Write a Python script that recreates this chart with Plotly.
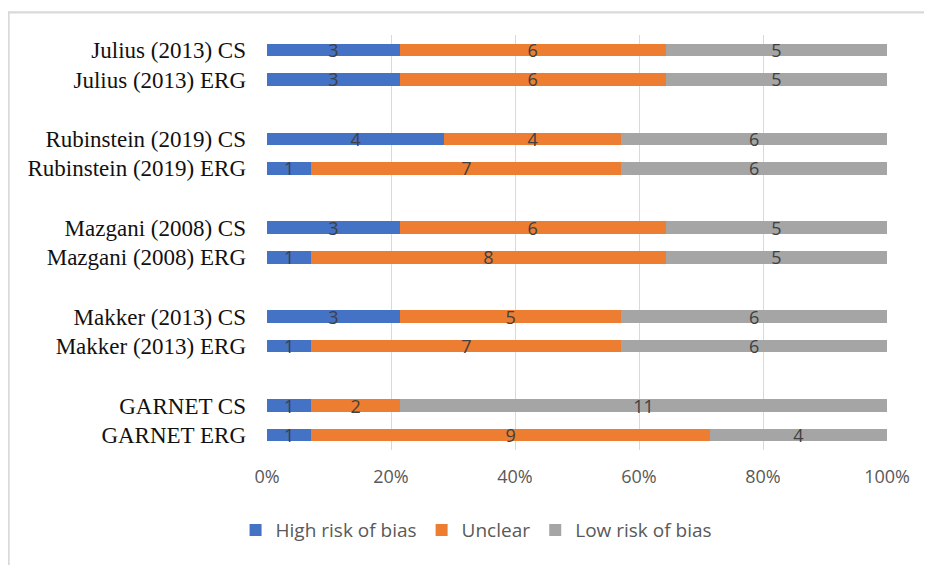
import plotly.graph_objects as go

studies = ["Julius (2013)", "Rubinstein (2019)", "Mazgani (2008)", "Makker (2013)", "GARNET"]
methods = ["CS", "ERG"]
series_names = ["High risk of bias", "Unclear", "Low risk of bias"]
colors = ["#4472C4", "#ED7D31", "#A5A5A5"]

# values per study, [CS, ERG]
high = {"Julius (2013)": [3, 3], "Rubinstein (2019)": [4, 1], "Mazgani (2008)": [3, 1],
        "Makker (2013)": [3, 1], "GARNET": [1, 1]}
unclear = {"Julius (2013)": [6, 6], "Rubinstein (2019)": [4, 7], "Mazgani (2008)": [6, 8],
           "Makker (2013)": [5, 7], "GARNET": [2, 9]}
low = {"Julius (2013)": [5, 5], "Rubinstein (2019)": [6, 6], "Mazgani (2008)": [5, 5],
       "Makker (2013)": [6, 6], "GARNET": [11, 4]}

labels, pos = [], []
for g, s in enumerate(studies):
    for m_i, m in enumerate(methods):
        labels.append(f"{s} {m}")
        pos.append(g * 3 + m_i)

data_sets = [high, unclear, low]
fig = go.Figure()
for name, col, d in zip(series_names, colors, data_sets):
    vals = [d[s][i] for s in studies for i in range(2)]
    fig.add_trace(go.Bar(
        y=pos, x=vals, name=name, orientation="h", marker_color=col,
        marker_line_width=0, width=0.42,
        text=[str(v) for v in vals], textposition="inside", textangle=0,
        insidetextanchor="middle", constraintext="none",
        textfont=dict(family="Open Sans, sans-serif", size=18, color="#404040"),
        cliponaxis=False,
    ))

fig.update_layout(
    barmode="stack", barnorm="percent",
    width=932, height=565,
    margin=dict(l=259, r=53, t=27, b=123),
    paper_bgcolor="white", plot_bgcolor="white",
    xaxis=dict(range=[0, 100], dtick=20, ticksuffix="%", showgrid=True,
               gridcolor="#D9D9D9", gridwidth=1, zeroline=False, showline=False,
               tickfont=dict(family="Open Sans, sans-serif", size=18, color="#595959"),
               ticklabelstandoff=14),
    yaxis=dict(tickvals=pos, ticktext=labels, range=[13.5, -0.5],
               showgrid=False, zeroline=False, showline=False,
               tickfont=dict(family="Liberation Serif, Times New Roman, serif", size=23, color="#111111"),
               ticklabelstandoff=20),
    legend=dict(orientation="h", x=0.338, xanchor="center", y=-0.193, yanchor="middle",
                font=dict(family="Open Sans, sans-serif", size=19, color="#595959"),
                traceorder="normal", itemwidth=30),
    showlegend=True,
    shapes=[
        dict(type="rect", xref="paper", yref="paper", x0=-0.418, x1=1.1,
             y0=1.052, y1=1.057, fillcolor="#D9D9D9", line_width=0, layer="above"),
        dict(type="rect", xref="paper", yref="paper", x0=-0.418, x1=-0.415,
             y0=-0.4, y1=1.057, fillcolor="#D9D9D9", line_width=0, layer="above"),
    ],
)

fig.write_html("out.html")
